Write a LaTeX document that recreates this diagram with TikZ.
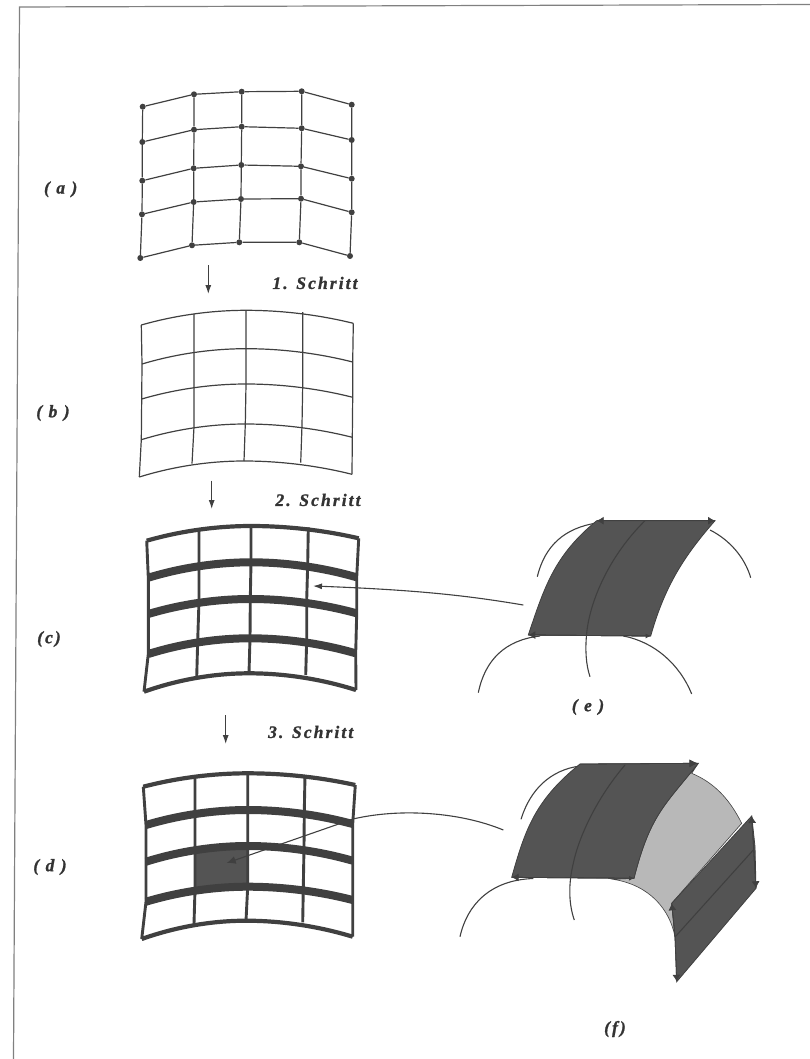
\documentclass[tikz,border=0pt]{standalone}
\usepackage{fontspec}
\usepackage{tikz}
\usetikzlibrary{arrows.meta,calc,positioning}

\newfontfamily\capfamily[LetterSpace=12,FakeBold=1.2]{Liberation Serif}
\newcommand{\capfont}{\fontsize{17.5}{20}\selectfont\capfamily\bfseries\itshape}
\definecolor{inkgray}{gray}{0.25}
\definecolor{patchgray}{gray}{0.33}
\definecolor{shadegray}{gray}{0.72}

\tikzset{
  frameline/.style={draw=gray,line width=1.2pt},
  meshdot/.style={circle,fill=inkgray,inner sep=0pt,minimum size=6pt},
  thinline/.style={draw=inkgray,line width=1.2pt},
  rimline/.style={draw=inkgray,line width=4.2pt},
  beamline/.style={draw=inkgray,line width=8pt},
  colline/.style={draw=inkgray,line width=2.9pt},
  arcline/.style={draw=inkgray,line width=1.1pt},
  patch/.style={fill=patchgray,draw=inkgray,line width=0.8pt},
  headline/.style={draw=inkgray,line width=0.8pt,-{Latex[length=7pt,width=8pt]}},
  pointer/.style={draw=inkgray,line width=1.1pt,-{Latex[length=9pt,width=6pt]}},
  caption/.style={font=\capfont,text=black!80,inner sep=0pt},
}

\begin{document}
\begin{tikzpicture}[x=1pt,y=-1pt]
\useasboundingbox (0,0) rectangle (810,1059);
% Rahmen
\draw[frameline] (13.5,1059) -- (19.5,7) -- (810,4.5);
% Stuetzpunkte der vier Netze
\foreach \name/\x/\y in {
  b-1-1/141.3/325, b-1-2/194/314, b-1-3/246/310.3, b-1-4/302.7/312, b-1-5/353.3/323.3,
  b-2-1/142/364, b-2-2/194/352, b-2-3/246/348.7, b-2-4/302.7/350.3, b-2-5/352.7/362,
  b-3-1/141.7/399, b-3-2/194/387.3, b-3-3/246/384, b-3-4/302.7/386, b-3-5/352.7/397.3,
  b-4-1/141.3/439.7, b-4-2/194/426.7, b-4-3/245.3/424, b-4-4/302/425.3, b-4-5/352.3/437.3,
  b-5-1/139.3/477, b-5-2/192/463.7, b-5-3/244/461, b-5-4/300.7/462.7, b-5-5/352/474.3,
  c-1-1/146.7/540.7, c-1-2/199/529.3, c-1-3/251/526, c-1-4/308.3/527.3, c-1-5/358.7/538.3,
  c-2-1/148.3/577.7, c-2-2/199/564, c-2-3/251/562.3, c-2-4/307.7/564, c-2-5/356.7/577.3,
  c-3-1/148.3/614, c-3-2/199/600.7, c-3-3/250.3/599, c-3-4/306.7/600, c-3-5/356.7/613.3,
  c-4-1/148.3/654, c-4-2/197.7/640.7, c-4-3/250/638.3, c-4-4/306.7/640, c-4-5/355.7/653.3,
  c-5-1/144/691.7, c-5-2/196.7/677.3, c-5-3/249/673.3, c-5-4/305.7/675, c-5-5/356/690,
  d-1-1/143.3/786.7, d-1-2/195/776.7, d-1-3/247.7/773.3, d-1-4/305/775, d-1-5/355.3/785,
  d-2-1/146/825, d-2-2/195/812.7, d-2-3/247.7/810, d-2-4/304.3/811, d-2-5/352.7/824,
  d-3-1/146/861.7, d-3-2/195/849.3, d-3-3/247.7/846, d-3-4/304/846.7, d-3-5/352.7/860.7,
  d-4-1/146/901.7, d-4-2/195/889.3, d-4-3/247.7/886.7, d-4-4/303.3/887.3, d-4-5/352.7/900,
  d-5-1/141.7/939, d-5-2/194/924, d-5-3/246/920.7, d-5-4/302.7/922.3, d-5-5/352.7/936.7
}{
  \coordinate (\name) at (\x,\y);
}
% Netz (a) mit Punkten
\foreach \name/\x/\y in {
  a-1-1/142.7/106.7, a-1-2/194/94.3, a-1-3/241.7/91.7, a-1-4/301.7/91.3, a-1-5/351.7/104.7,
  a-2-1/142.3/142, a-2-2/194/129.7, a-2-3/241.7/126.7, a-2-4/301.7/128.3, a-2-5/351.7/140,
  a-3-1/142.3/180.7, a-3-2/193.7/168.3, a-3-3/241.3/165, a-3-4/301/166.3, a-3-5/351.7/178.7,
  a-4-1/142/214.3, a-4-2/193.7/202, a-4-3/241/199, a-4-4/301/198.7, a-4-5/351.7/212.3,
  a-5-1/140.3/258, a-5-2/192/245.3, a-5-3/239.3/242.3, a-5-4/299.3/242.3, a-5-5/350/256
}{
  \node[meshdot] (\name) at (\x,\y) {};
}
\foreach \r in {1,...,5}{
  \draw[thinline] (a-\r-1) -- (a-\r-2) -- (a-\r-3) -- (a-\r-4) -- (a-\r-5);
}
\foreach \k in {1,...,5}{
  \draw[thinline] (a-1-\k) -- (a-2-\k) -- (a-3-\k) -- (a-4-\k) -- (a-5-\k);
}
% Netz (b)
\foreach \r in {1,...,5}{
  \draw[thinline] (b-\r-1) parabola bend (b-\r-3) (b-\r-5);
}
\foreach \k in {1,...,5}{
  \draw[thinline] (b-1-\k) -- (b-2-\k) -- (b-3-\k) -- (b-4-\k) -- (b-5-\k);
}
% Netze (c) und (d) mit Balken
\fill[patchgray] (d-3-2) -- (d-3-3) -- (d-4-3) -- (d-4-2) -- cycle;
\foreach \m in {c,d}{
  \foreach \k in {1,...,5}{
    \draw[colline] (\m-1-\k) -- (\m-2-\k) -- (\m-3-\k) -- (\m-4-\k) -- (\m-5-\k);
  }
  \foreach \r in {1,5}{
    \draw[rimline] (\m-\r-1) parabola bend (\m-\r-3) (\m-\r-5);
  }
  \foreach \r in {2,3,4}{
    \draw[beamline] (\m-\r-1) parabola bend (\m-\r-3) (\m-\r-5);
  }
}
% Schritte
\coordinate (s1-from) at (208.3,265);
\coordinate (s1-to) at (208.3,294);
\coordinate (s2-from) at (211.7,480.7);
\coordinate (s2-to) at (211.7,509);
\coordinate (s3-from) at (225.7,715);
\coordinate (s3-to) at (225.7,744);
\foreach \s in {s1,s2,s3}{
  \draw[pointer] (\s-from) -- (\s-to);
}
\node[caption] (step1) at (315,283) {1. Schritt};
\node[caption] (step2) at (318,500) {2. Schritt};
\node[caption] (step3) at (310.7,732) {3. Schritt};
% Beschriftung
\node[caption] (lab-a) at (60.7,189.3) {( a )};
\node[caption] (lab-b) at (53,413) {( b )};
\node[caption] (lab-c) at (49,639) {(c)};
\node[caption] (lab-d) at (50,867) {( d )};
\node[caption] (lab-e) at (588,707) {( e )};
\node[caption] (lab-f) at (615,1029) {(f)};
% Flaechenstueck (e)
\coordinate (e-tl) at (596.7,520.7);
\coordinate (e-tr) at (715,520.7);
\coordinate (e-br) at (650.7,636);
\coordinate (e-bl) at (528.3,635);
\draw[arcline] (537.3,576.7) .. controls (545,545) and (565,528) .. (596.7,523);
\draw[arcline] (710,530) .. controls (730,540) and (745,558) .. (750.7,577.7);
\draw[arcline] (478.3,692.7) .. controls (485,660) and (505,640) .. (540,636);
\draw[arcline] (623.3,636) .. controls (655,642) and (680,665) .. (691.7,694);
\path[patch] (e-tl) -- (e-tr) .. controls (685,555) and (665,585) .. (e-br)
  -- (e-bl) .. controls (545,585) and (555,555) .. (e-tl) -- cycle;
\draw[headline] (e-tr) -- (e-tl);
\draw[headline] (e-tl) -- (e-tr);
\draw[headline] (e-br) -- (e-bl);
\draw[headline,-{Latex[length=5pt,width=5pt]}] (e-bl) -- (e-br);
\draw[arcline] (645,520.7) .. controls (610,555) and (590,600) .. (586.7,633) .. controls (585,650) and (586,665) .. (590,676.7);
% Flaechenstueck (f)
\coordinate (f-tl) at (580,764);
\coordinate (f-tr) at (698.3,763.3);
\coordinate (f-br) at (634,878.3);
\coordinate (f-bl) at (511.7,877.3);
\coordinate (g-t) at (751.7,816);
\coordinate (g-m) at (756,888.3);
\coordinate (g-b) at (676.7,981.7);
\coordinate (g-l) at (671.7,903.3);
\coordinate (g-c) at (675,937);
\path[fill=shadegray,draw=inkgray,line width=0.6pt] (f-tr) -- (691.7,773.3) .. controls (715,783) and (730,800) .. (741.7,823.3)
  -- (g-l) -- (g-c) .. controls (670,910) and (650,885) .. (613,879.3) -- (f-br) .. controls (650,815) and (665,805) .. (f-tr) -- cycle;
\draw[arcline] (521,819.3) .. controls (530,790) and (550,770) .. (580,766);
\draw[arcline] (460,936.7) .. controls (467,905) and (490,880) .. (533.3,878.5);
\path[patch] (f-tl) -- (f-tr) .. controls (665,805) and (650,815) .. (f-br)
  -- (f-bl) .. controls (525,830) and (535,800) .. (f-tl) -- cycle;
\draw[headline] (f-br) -- (f-bl);
\draw[headline,-{Latex[length=5pt,width=5pt]}] (f-bl) -- (f-br);
\draw[headline,-{Latex[length=9pt,width=8pt]}] (f-tl) -- (f-tr);
\draw[arcline] (625,765) .. controls (595,800) and (578,840) .. (573.3,863.3) .. controls (568,885) and (569,905) .. (574.3,920);
\path[patch] (g-l) -- (g-t) -- (755,846.7) -- (g-m) -- (g-b) -- (g-c) -- cycle;
\draw[headline] (g-c) -- (g-l);
\draw[headline] (g-c) -- (g-b);
\draw[headline] (g-m) -- (g-t);
\draw[headline] (g-t) -- (g-m);
\draw[arcline] (g-c) -- (753.3,850);
% Zeiger von den Flaechenstuecken ins Netz
\coordinate (e-from) at (523.3,605);
\coordinate (c-to) at (313,586);
\draw[pointer] (e-from) .. controls (470,596) and (420,590) .. (c-to);
\coordinate (f-from) at (503.3,830);
\coordinate (d-bend) at (353,819);
\coordinate (d-to) at (226.7,863);
\draw[pointer,-{Latex[length=9pt,width=8pt]}] (f-from) .. controls (460,812) and (400,808) .. (d-bend) -- (d-to);
\end{tikzpicture}
\end{document}
